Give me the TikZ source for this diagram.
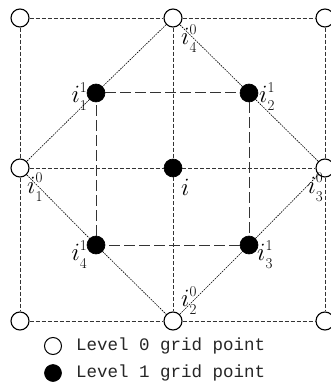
\documentclass[tikz,border=0pt]{standalone}
\usepackage{fontspec}
\setmonofont{Liberation Mono}
\usetikzlibrary{positioning}

% label of a grid point: i with upper and lower index
\newcommand{\gpl}[2]{$i$\makebox[0pt][l]{\raisebox{10pt}{\fontsize{15}{15}\selectfont #1}}\raisebox{-8pt}{\fontsize{15}{15}\selectfont #2}}

\begin{document}
\begin{tikzpicture}[x=1pt, y=-1pt,
        lvlzero/.style={circle, draw, fill=white, line width=1.1pt, minimum size=18pt, inner sep=0pt},
        lvlone/.style={circle, draw, fill=black, line width=0.6pt, minimum size=18pt, inner sep=0pt},
        gridzero/.style={black!80, line width=0.9pt, dash pattern=on 4pt off 2pt},
        gridone/.style={black!80, line width=1pt, dash pattern=on 11pt off 4pt},
        diag/.style={black, line width=0.6pt, dash pattern=on 1.6pt off 1pt},
        lbl/.style={inner sep=0pt, font=\fontsize{27}{29}\selectfont},
        legtext/.style={inner sep=0pt, font=\fontsize{17.5}{20}\selectfont\ttfamily, text=black!85}]
        \useasboundingbox (0,0) rectangle (330,387);

        % level 0 grid points
        \node (tl) [lvlzero] at (20,18) {};
        \node (tc) [lvlzero] at (173,18) {};
        \node (tr) [lvlzero] at (325,18) {};
        \node (ml) [lvlzero] at (20,168) {};
        \node (mr) [lvlzero] at (325,168) {};
        \node (bl) [lvlzero] at (20,321) {};
        \node (bc) [lvlzero] at (173,321) {};
        \node (br) [lvlzero] at (325,321) {};

        % level 1 grid points
        \node (c) [lvlone] at (173,168) {};
        \node (p1) [lvlone] at (96,93) {};
        \node (p2) [lvlone] at (249,93) {};
        \node (p3) [lvlone] at (249,245) {};
        \node (p4) [lvlone] at (96,245) {};

        % level 0 grid
        \draw[gridzero] (tl) -- (tc) -- (tr);
        \draw[gridzero] (ml) -- (c) -- (mr);
        \draw[gridzero] (bl) -- (bc) -- (br);
        \draw[gridzero] (tl) -- (ml) -- (bl);
        \draw[gridzero] (tc) -- (c) -- (bc);
        \draw[gridzero] (tr) -- (mr) -- (br);

        % level 1 square
        \draw[gridone] (p1) -- (p2) -- (p3) -- (p4) -- (p1);

        % diagonals
        \draw[diag] (tc) -- (p1) -- (ml) -- (p4) -- (bc) -- (p3) -- (mr) -- (p2) -- (tc);

        % labels
        \node (ltc) [lbl, anchor=base west] at (181,45) {\gpl{0}{4}};
        \node (lp1) [lbl, anchor=base east] at (87,103) {\gpl{1}{1}};
        \node (lp2) [lbl, anchor=base west] at (259,103) {\gpl{1}{2}};
        \node (lc) [lbl, anchor=base west] at (181,195) {$i$};
        \node (lml) [lbl, anchor=base west] at (27,193) {\gpl{0}{1}};
        \node (lmr) [lbl, anchor=base east] at (323,193) {\gpl{0}{3}};
        \node (lp4) [lbl, anchor=base east] at (87,260) {\gpl{1}{4}};
        \node (lp3) [lbl, anchor=base west] at (257,260) {\gpl{1}{3}};
        \node (lbc) [lbl, anchor=base west] at (181,306) {\gpl{0}{2}};

        % legend
        \node (keyzero) [lvlzero, minimum size=17pt, line width=1pt] at (53,346) {};
        \node (keyone) [lvlone, minimum size=17pt] at (53,373) {};
        \node (keyzerotext) [legtext, right=14pt of keyzero] {Level 0 grid point};
        \node (keyonetext) [legtext, right=14pt of keyone] {Level 1 grid point};
    \end{tikzpicture}
\end{document}
